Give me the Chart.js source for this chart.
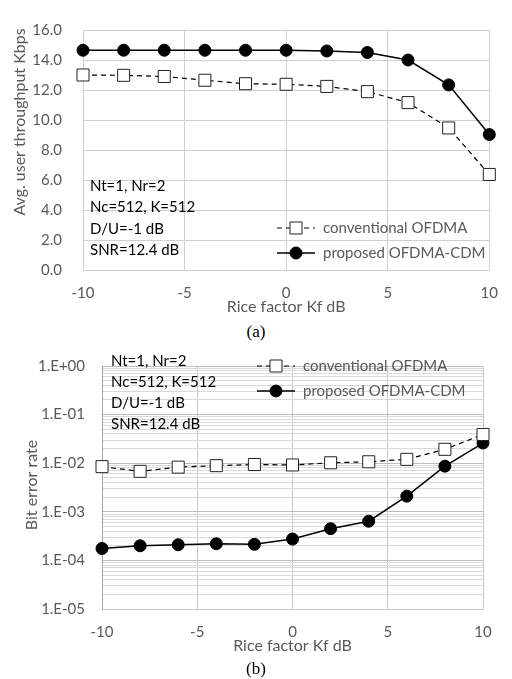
<!DOCTYPE html>
<html><head><meta charset="utf-8">
<script src="https://cdn.jsdelivr.net/npm/chart.js@4.4.1/dist/chart.umd.min.js"></script>
<style>
html,body{margin:0;padding:0;background:#fff;}
#wrap{position:relative;width:512px;height:679px;overflow:hidden;}
.cap{position:absolute;left:0;width:512px;text-align:center;font:17px 'Liberation Serif',serif;color:#000;line-height:20px;}
canvas{position:absolute;left:0;}
</style></head>
<body><div id="wrap">
<canvas id="c1" width="512" height="320" style="top:0px"></canvas>
<div class="cap" style="top:322px">(a)</div>
<canvas id="c2" width="512" height="339" style="top:340px"></canvas>
<div class="cap" style="top:659px">(b)</div>
</div>
<script>
// ---- data ----
const kf = [-10, -8, -6, -4, -2, 0, 2, 4, 6, 8, 10];
const thrConv = [13.0, 12.98, 12.9, 12.65, 12.42, 12.38, 12.24, 11.89, 11.16, 9.47, 6.37];
const thrProp = [14.65, 14.65, 14.65, 14.65, 14.65, 14.65, 14.6, 14.5, 14.0, 12.34, 9.03];
const berConv = [8.5e-3, 6.8e-3, 8.3e-3, 8.9e-3, 9.4e-3, 9.2e-3, 1.02e-2, 1.07e-2, 1.2e-2, 1.93e-2, 3.9e-2];
const berProp = [1.76e-4, 2.0e-4, 2.1e-4, 2.2e-4, 2.14e-4, 2.75e-4, 4.5e-4, 6.4e-4, 2.1e-3, 8.7e-3, 2.6e-2];
const xTickLabels = ['-10', '-5', '0', '5', '10'];
const thrTickLabels = ['0.0', '2.0', '4.0', '6.0', '8.0', '10.0', '12.0', '14.0', '16.0'];
const berTickLabels = ['1.E-05', '1.E-04', '1.E-03', '1.E-02', '1.E-01', '1.E+00'];
const seriesNames = ['conventional OFDMA', 'proposed OFDMA-CDM'];
const noteLines = ['Nt=1, Nr=2', 'Nc=512, K=512', 'D/U=-1 dB', 'SNR=12.4 dB'];
const xTitle = 'Rice factor Kf dB';
const yTitleA = 'Avg. user throughput Kbps';
const yTitleB = 'Bit error rate';

const FONT = 'Lato, Calibri, sans-serif';
const GREY = '#595959';

function pts(ys) { return kf.map((x, i) => ({x: x, y: ys[i]})); }

function datasets(conv, prop) {
  return [
    {label: seriesNames[0], data: pts(conv), borderColor: '#000', borderWidth: 1.2, borderDash: [5, 4],
     pointStyle: 'rect', pointRadius: 8.5, pointBackgroundColor: '#fff', pointBorderColor: '#222',
     pointBorderWidth: 1, clip: false, tension: 0},
    {label: seriesNames[1], data: pts(prop), borderColor: '#000', borderWidth: 1.5,
     pointStyle: 'circle', pointRadius: 6, pointBackgroundColor: '#000', pointBorderColor: '#000',
     pointBorderWidth: 1, clip: false, tension: 0}
  ];
}

const notesPlugin = {
  id: 'notes',
  afterDatasetsDraw(chart, args, o) {
    const ctx = chart.ctx;
    ctx.save();
    // rotated y-axis title
    ctx.save();
    ctx.font = '16px ' + FONT;
    ctx.fillStyle = GREY;
    ctx.textAlign = 'center';
    ctx.textBaseline = 'middle';
    ctx.translate(o.yt[0], o.yt[1]);
    ctx.rotate(-Math.PI / 2);
    ctx.fillText(o.yTitle, 0, 0);
    ctx.restore();

    ctx.font = '15px ' + FONT;
    ctx.textBaseline = 'middle';
    ctx.textAlign = 'left';
    ctx.fillStyle = '#000';
    o.lines.forEach((t, i) => ctx.fillText(t, o.nx, o.ny + i * o.dy));
    chart.data.datasets.forEach((ds, i) => {
      const y = o.ly[i];
      ctx.save();
      ctx.strokeStyle = ds.borderColor;
      ctx.lineWidth = ds.borderWidth;
      ctx.setLineDash(ds.borderDash || []);
      ctx.beginPath(); ctx.moveTo(o.lx1, y); ctx.lineTo(o.lx2, y); ctx.stroke();
      ctx.setLineDash([]);
      const cx = (o.lx1 + o.lx2) / 2;
      ctx.fillStyle = ds.pointBackgroundColor;
      ctx.strokeStyle = ds.pointBorderColor;
      ctx.lineWidth = ds.pointBorderWidth;
      ctx.beginPath();
      if (ds.pointStyle === 'rect') {
        const s = Math.SQRT1_2 * ds.pointRadius;
        ctx.rect(cx - s, y - s, 2 * s, 2 * s);
      } else {
        ctx.arc(cx, y, ds.pointRadius, 0, Math.PI * 2);
      }
      ctx.fill(); ctx.stroke();
      ctx.restore();
      ctx.fillStyle = GREY;
      ctx.fillText(ds.label, o.tx, y);
    });
    ctx.restore();
  }
};

function xScale(gridColor) {
  return {
    type: 'linear', min: -10, max: 10,
    afterFit(s) { s.height = 46; },
    afterBuildTicks(s) { s.ticks = xTickLabels.map(v => ({value: Number(v)})); },
    ticks: {autoSkip: false, maxRotation: 0, padding: 14, color: GREY, font: {family: FONT, size: 15},
            callback: (v) => xTickLabels.find(t => Number(t) === v) || ''},
    grid: {color: gridColor, drawTicks: false, lineWidth: 1},
    border: {display: true, color: gridColor},
    title: {display: true, text: xTitle, color: GREY, font: {family: FONT, size: 16}, padding: {top: 0, bottom: 0}}
  };
}

new Chart(document.getElementById('c1'), {
  type: 'line',
  data: {datasets: datasets(thrConv, thrProp)},
  options: {
    responsive: false, animation: false, devicePixelRatio: 1,
    layout: {padding: {left: 0, right: 15, top: 12, bottom: 4}},
    plugins: {legend: {display: false}, tooltip: {enabled: false},
      notes: {yTitle: yTitleA, yt: [20, 122], lines: noteLines, nx: 90, ny: 186, dy: 21.4, ly: [228, 253], lx1: 277, lx2: 315, tx: 323}},
    scales: {
      x: xScale('#d0d0d0'),
      y: {
        type: 'linear', min: 0, max: 16,
        afterFit(s) { s.width = 83; },
        afterBuildTicks(s) { s.ticks = thrTickLabels.map(v => ({value: Number(v)})); },
        ticks: {autoSkip: false, padding: 21, color: GREY, font: {family: FONT, size: 15},
                callback: (v) => thrTickLabels.find(t => Number(t) === v) || ''},
        grid: {color: '#d0d0d0', drawTicks: false},
        border: {display: true, color: '#d0d0d0'},
        title: {display: false}
      }
    }
  },
  plugins: [notesPlugin]
});

// log ticks: labelled decades plus 2..9 minor gridlines
const berTickValues = [];
berTickLabels.forEach((t, i) => {
  const d = Number(t);
  berTickValues.push(d);
  if (i < berTickLabels.length - 1) for (let m = 2; m <= 9; m++) berTickValues.push(d * m);
});
function isDecade(v) { return berTickLabels.some(t => Math.abs(Number(t) - v) < v * 1e-6); }

new Chart(document.getElementById('c2'), {
  type: 'line',
  data: {datasets: datasets(berConv, berProp)},
  options: {
    responsive: false, animation: false, devicePixelRatio: 1,
    layout: {padding: {left: 0, right: 29, top: 12, bottom: 24}},
    plugins: {legend: {display: false}, tooltip: {enabled: false},
      notes: {yTitle: yTitleB, yt: [32, 145], lines: noteLines, nx: 111, ny: 21, dy: 21.1, ly: [26, 51], lx1: 257, lx2: 295, tx: 303}},
    scales: {
      x: xScale('#c8c8c8'),
      y: {
        type: 'logarithmic', min: 1e-5, max: 1,
        afterFit(s) { s.width = 102; },
        afterBuildTicks(s) { s.ticks = berTickValues.map(v => ({value: v, major: isDecade(v)})); },
        ticks: {autoSkip: false, padding: 17, color: GREY, font: {family: FONT, size: 15},
                callback: (v) => { const t = berTickLabels.find(t => Math.abs(Number(t) - v) < v * 1e-6); return t || ''; }},
        grid: {drawTicks: false, color: (c) => (c.tick && isDecade(c.tick.value)) ? '#bdbdbd' : '#d9d9d9'},
        border: {display: true, color: '#a6a6a6'},
        title: {display: false}
      }
    }
  },
  plugins: [notesPlugin]
});
</script>
</body></html>
